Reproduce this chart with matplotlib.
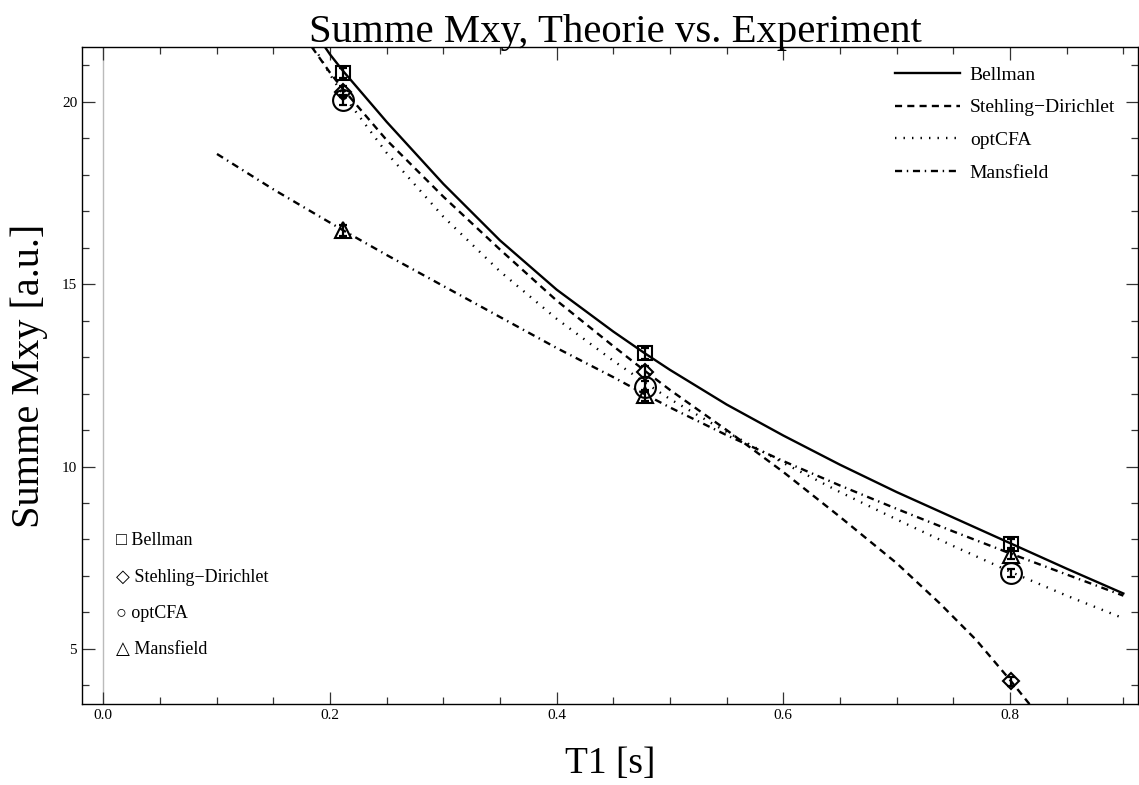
import matplotlib
matplotlib.use("Agg")
import matplotlib.pyplot as plt
from matplotlib.ticker import MultipleLocator, FormatStrFormatter

plt.rcParams["font.family"] = ["Liberation Serif", "DejaVu Serif"]

# theory curves
bell_x = [0.1956, 0.2, 0.2114, 0.25, 0.3, 0.35, 0.4, 0.45, 0.478, 0.5, 0.55, 0.6,
          0.65, 0.7, 0.75, 0.8, 0.85, 0.9]
bell_y = [21.5, 21.3, 20.85, 19.45, 17.75, 16.2, 14.85, 13.7, 13.1, 12.65, 11.7, 10.85,
          10.05, 9.3, 8.6, 7.9, 7.2, 6.52]

steh_x = [0.184, 0.2, 0.2114, 0.25, 0.3, 0.35, 0.4, 0.45, 0.478, 0.5, 0.55, 0.6,
          0.65, 0.7, 0.738, 0.77, 0.8, 0.822]
steh_y = [21.5, 20.8, 20.35, 18.95, 17.4, 15.95, 14.55, 13.3, 12.62, 12.1, 11.0, 9.85,
          8.62, 7.35, 6.25, 5.25, 4.15, 3.3]

cfa_x = [0.186, 0.2, 0.2114, 0.25, 0.3, 0.35, 0.4, 0.45, 0.478, 0.5, 0.55, 0.6,
         0.65, 0.7, 0.75, 0.8, 0.85, 0.9]
cfa_y = [21.5, 20.75, 20.2, 18.6, 16.85, 15.35, 14.05, 12.9, 12.3, 11.85, 10.95, 10.1,
         9.3, 8.55, 7.82, 7.12, 6.46, 5.84]

mans_x = [0.1003, 0.15, 0.2114, 0.25, 0.3, 0.35, 0.4, 0.45, 0.478, 0.5, 0.55, 0.6,
          0.65, 0.7, 0.75, 0.8, 0.85, 0.9]
mans_y = [18.57, 17.6, 16.48, 15.8, 14.95, 14.1, 13.25, 12.45, 11.98, 11.62, 10.86, 10.15,
          9.48, 8.84, 8.22, 7.62, 7.04, 6.46]

# measured points
t1 = [0.2114, 0.478, 0.8008]
meas_bell = [20.79, 13.10, 7.88]
meas_steh = [20.27, 12.60, 4.11]
meas_cfa = [20.05, 12.19, 7.08]
meas_mans = [16.48, 11.96, 7.58]
err = [0.15, 0.15, 0.12]

names = ["Bellman", "Stehling\u2212Dirichlet", "optCFA", "Mansfield"]
styles = ["-", (0, (3.0, 2.2)), (0, (0.6, 3.0)), (0, (3.0, 2.0, 0.6, 2.0))]
marks = ["s", "D", "o", "^"]
msizes = [10, 8, 15, 11]
msyms = ["\u25a1", "\u25c7", "\u25cb", "\u25b3"]

fig = plt.figure(figsize=(11.39, 7.85), dpi=100)
ax = fig.add_axes([0.072, 0.1032, 0.927, 0.8368])

curves = [(bell_x, bell_y), (steh_x, steh_y), (cfa_x, cfa_y), (mans_x, mans_y)]
for (cx, cy), ls, nm in zip(curves, styles, names):
    ax.plot(cx, cy, color="black", lw=1.7, linestyle=ls, label=nm, zorder=3)

meas = [meas_bell, meas_steh, meas_cfa, meas_mans]
for my, mk, ms in zip(meas, marks, msizes):
    ax.errorbar(t1, my, yerr=err, fmt="none", ecolor="black", elinewidth=1.6,
                capsize=3, capthick=1.6, zorder=4)
    ax.plot(t1, my, linestyle="none", marker=mk, markersize=ms, markerfacecolor="none",
            markeredgecolor="black", markeredgewidth=1.5, zorder=5)

ax.axvline(0.0, color="#bbbbbb", lw=1.0, zorder=1)

ax.set_xlim(-0.0188, 0.9128)
ax.set_ylim(3.49, 21.5)
ax.xaxis.set_major_locator(MultipleLocator(0.2))
ax.xaxis.set_minor_locator(MultipleLocator(0.05))
ax.yaxis.set_major_locator(MultipleLocator(5))
ax.yaxis.set_minor_locator(MultipleLocator(1))
ax.xaxis.set_major_formatter(FormatStrFormatter("%.1f"))
ax.tick_params(which="both", direction="in", top=True, right=True, labelsize=11,
               width=0.9, color="#333333")
ax.tick_params(which="major", length=9)
ax.tick_params(which="minor", length=5)
for s in ax.spines.values():
    s.set_linewidth(1.0)

ax.text(0.505, 1.0 + 5 / 657, "Summe Mxy, Theorie vs. Experiment", transform=ax.transAxes,
        fontsize=29.3, ha="center", va="baseline")
ax.set_xlabel("T1 [s]", fontsize=27, labelpad=18)
ax.set_ylabel("Summe Mxy [a.u.]", fontsize=29, labelpad=10)

ax.legend(loc="upper left", bbox_to_anchor=(0.770, 0.971), frameon=False, fontsize=14,
          handlelength=3.35, labelspacing=0.77, handletextpad=0.5,
          borderpad=0, borderaxespad=0)

ys = [0.2496, 0.1933, 0.1385, 0.0822]
for sym, nm, yy in zip(msyms, names, ys):
    ax.text(0.032, yy, f"{sym} {nm}", transform=ax.transAxes,
            fontsize=13, ha="left", va="center")

fig.savefig("out.png", dpi=100)
